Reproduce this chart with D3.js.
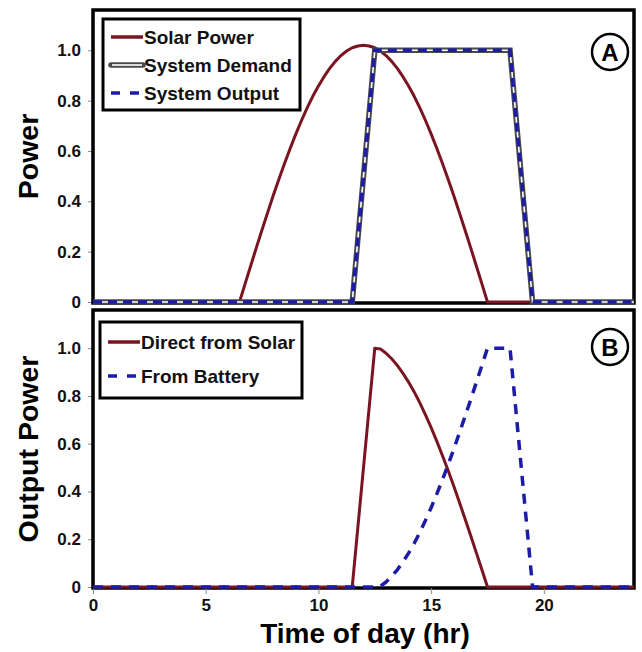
<!DOCTYPE html>
<html>
<head>
<meta charset="utf-8">
<script src="https://cdn.jsdelivr.net/npm/d3@7/dist/d3.min.js"></script>
<style>
  html, body { margin: 0; padding: 0; background: #fff; }
  svg { display: block; font-family: "Liberation Sans", Arial, sans-serif; font-weight: bold; }
</style>
</head>
<body>
<svg id="chart" width="642" height="652"></svg>
<script>
// Solar output sampled every quarter hour while the sun is up (hours, normalised power)
const solarHours = [0, 6.5, 6.75, 7, 7.25, 7.5, 7.75, 8, 8.25, 8.5, 8.75, 9, 9.25, 9.5, 9.75,
  10, 10.25, 10.5, 10.75, 11, 11.25, 11.5, 11.75, 12, 12.25, 12.5, 12.75, 13, 13.25, 13.5, 13.75,
  14, 14.25, 14.5, 14.75, 15, 15.25, 15.5, 15.75, 16, 16.25, 16.5, 16.75, 17, 17.25, 17.5, 24];
const solarPower = [0, 0, 0.073, 0.145, 0.217, 0.287, 0.356, 0.424, 0.489, 0.551, 0.611, 0.668, 0.721, 0.771, 0.817,
  0.858, 0.895, 0.928, 0.956, 0.979, 0.997, 1.010, 1.017, 1.020, 1.017, 1.010, 0.997, 0.979, 0.956, 0.928, 0.895,
  0.858, 0.817, 0.771, 0.721, 0.668, 0.611, 0.551, 0.489, 0.424, 0.356, 0.287, 0.217, 0.145, 0.073, 0, 0];

// Load profile and what the system delivers
const demandHours = [0, 11.5, 12.5, 18.5, 19.5, 24];
const systemDemand = [0, 0, 1, 1, 0, 0];
const systemOutput = [0, 0, 1, 1, 0, 0];

// Split of the delivered power
const directHours = [0, 11.5, 12.5, 12.75, 13, 13.25, 13.5, 13.75, 14, 14.25, 14.5, 14.75, 15, 15.25,
  15.5, 15.75, 16, 16.25, 16.5, 16.75, 17, 17.25, 17.5, 24];
const directFromSolar = [0, 0, 1.0, 0.997, 0.979, 0.956, 0.928, 0.895, 0.858, 0.817, 0.771, 0.721, 0.668, 0.611,
  0.551, 0.489, 0.424, 0.356, 0.287, 0.217, 0.145, 0.073, 0, 0];

const batteryHours = [0, 12.5, 12.75, 13, 13.25, 13.5, 13.75, 14, 14.25, 14.5, 14.75, 15, 15.25, 15.5, 15.75,
  16, 16.25, 16.5, 16.75, 17, 17.25, 17.5, 18.5, 19.5, 24];
const fromBattery = [0, 0, 0.003, 0.021, 0.044, 0.072, 0.105, 0.142, 0.183, 0.229, 0.279, 0.332, 0.389, 0.449, 0.511,
  0.576, 0.644, 0.713, 0.783, 0.855, 0.927, 1.0, 1.0, 0, 0];

const xTicks = [0, 5, 10, 15, 20];
const yTicks = [0, 0.2, 0.4, 0.6, 0.8, 1.0];
const yTickLabels = ["0", "0.2", "0.4", "0.6", "0.8", "1.0"];

const RED = "#7a1420";
const BLUE = "#1c1ca8";
const GRAY = "#4a4a4a";
const FONT = '"Liberation Sans", Arial, sans-serif';

const svg = d3.select("#chart");
const left = 93, right = 634;
const x = d3.scaleLinear().domain([0, 24]).range([left, right]);

const panels = [
  { top: 10, bottom: 303, title: "Power", tag: "A" },
  { top: 310, bottom: 588, title: "Output Power", tag: "B" }
];
panels.forEach(p => {
  p.y = d3.scaleLinear().domain([0, 1.16]).range([p.bottom - 1, p.top]);
});

function pts(xs, ys) { return xs.map((t, i) => [t, ys[i]]); }

panels.forEach(p => {
  const g = svg.append("g");
  const y = p.y;

  // y axis ticks & labels
  const yAxis = d3.axisLeft(y).tickValues(yTicks).tickSize(5).tickFormat((d, i) => yTickLabels[i]);
  const ya = g.append("g").attr("transform", `translate(${left},0)`).call(yAxis);
  ya.select(".domain").remove();
  ya.selectAll(".tick line").attr("stroke", "#888").attr("stroke-width", 1);
  ya.selectAll(".tick text").attr("font-size", 17).attr("font-weight", "bold")
    .attr("fill", "#111").attr("x", -12).attr("font-family", FONT);

  // y title
  g.append("text")
    .attr("transform", `translate(38,${(p.top + p.bottom) / 2}) rotate(-90)`)
    .attr("text-anchor", "middle")
    .attr("font-size", 28.5).attr("fill", "#000")
    .text(p.title);

  // frame
  g.append("rect")
    .attr("x", left).attr("y", p.top)
    .attr("width", right - left).attr("height", p.bottom - p.top)
    .attr("fill", "none").attr("stroke", "#000").attr("stroke-width", 3.5);
});

// x axis on the lower panel
const pB = panels[1];
const xAxis = d3.axisBottom(x).tickValues(xTicks).tickSize(6).tickFormat(d3.format("d"));
const xa = svg.append("g").attr("transform", `translate(0,${pB.bottom})`).call(xAxis);
xa.select(".domain").remove();
xa.selectAll(".tick line").attr("stroke", "#888");
xa.selectAll(".tick text").attr("font-size", 17).attr("font-weight", "bold").attr("fill", "#111")
  .attr("y", 11).attr("font-family", FONT);

svg.append("text")
  .attr("x", 365).attr("y", 643)
  .attr("text-anchor", "middle")
  .attr("font-size", 28).attr("fill", "#000")
  .text("Time of day (hr)");

// ---- Panel A lines
const pA = panels[0];
const lineA = d3.line().x(d => x(d[0])).y(d => pA.y(d[1]));
const gA = svg.append("g");
gA.append("path").datum(pts(solarHours, solarPower)).attr("d", lineA)
  .attr("fill", "none").attr("stroke", RED).attr("stroke-width", 3).attr("stroke-linejoin", "round");
gA.append("path").datum(pts(demandHours, systemDemand)).attr("d", lineA)
  .attr("fill", "none").attr("stroke", GRAY).attr("stroke-width", 5.5).attr("stroke-linejoin", "miter");
gA.append("path").datum(pts(demandHours, systemDemand)).attr("d", lineA)
  .attr("fill", "none").attr("stroke", "#fff").attr("stroke-width", 1.6);
gA.append("path").datum(pts(demandHours, systemOutput)).attr("d", lineA)
  .attr("fill", "none").attr("stroke", BLUE).attr("stroke-width", 3.5).attr("stroke-dasharray", "9,6");

// ---- Panel B lines
const lineB = d3.line().x(d => x(d[0])).y(d => pB.y(d[1]));
const gB = svg.append("g");
gB.append("path").datum(pts(directHours, directFromSolar)).attr("d", lineB)
  .attr("fill", "none").attr("stroke", RED).attr("stroke-width", 3).attr("stroke-linejoin", "round");
gB.append("path").datum(pts(batteryHours, fromBattery)).attr("d", lineB)
  .attr("fill", "none").attr("stroke", BLUE).attr("stroke-width", 3.5).attr("stroke-dasharray", "10,8")
  .attr("stroke-linejoin", "round");

// ---- Legends
function legend(x0, y0, w, h, items) {
  const g = svg.append("g");
  g.append("rect").attr("x", x0).attr("y", y0).attr("width", w).attr("height", h)
    .attr("fill", "#fff").attr("stroke", "#000").attr("stroke-width", 3);
  items.forEach((it, i) => {
    const cy = y0 + it.first + i * it.step;
    const lx0 = x0 + 8, lx1 = x0 + 40;
    if (it.type === "double") {
      g.append("line").attr("x1", lx0).attr("x2", lx1).attr("y1", cy).attr("y2", cy)
        .attr("stroke", GRAY).attr("stroke-width", 5.5).attr("stroke-linecap", "round");
      g.append("line").attr("x1", lx0 + 1).attr("x2", lx1 - 1).attr("y1", cy).attr("y2", cy)
        .attr("stroke", "#fff").attr("stroke-width", 1.6);
    } else {
      g.append("line").attr("x1", lx0).attr("x2", lx1).attr("y1", cy).attr("y2", cy)
        .attr("stroke", it.color).attr("stroke-width", 3.5)
        .attr("stroke-dasharray", it.dash ? "9,10" : null);
    }
    g.append("text").attr("x", lx1 + 1).attr("y", cy + 7)
      .attr("font-size", 19).attr("fill", "#111").text(it.label);
  });
}
legend(103, 19, 197, 91, [
  { label: "Solar Power", color: RED, first: 18, step: 28 },
  { label: "System Demand", type: "double", first: 18, step: 28 },
  { label: "System Output", color: BLUE, dash: true, first: 18, step: 28 }
]);
legend(100, 322, 202, 76, [
  { label: "Direct from Solar", color: RED, first: 20, step: 34 },
  { label: "From Battery", color: BLUE, dash: true, first: 20, step: 34 }
]);

// ---- Panel tags
[{ cx: 610, cy: 52, t: "A" }, { cx: 610, cy: 347, t: "B" }].forEach(d => {
  svg.append("circle").attr("cx", d.cx).attr("cy", d.cy).attr("r", 18)
    .attr("fill", "#fff").attr("stroke", "#000").attr("stroke-width", 2.5);
  svg.append("text").attr("x", d.cx).attr("y", d.cy + 8.5).attr("text-anchor", "middle")
    .attr("font-size", 24).attr("fill", "#000").text(d.t);
});
</script>
</body>
</html>
